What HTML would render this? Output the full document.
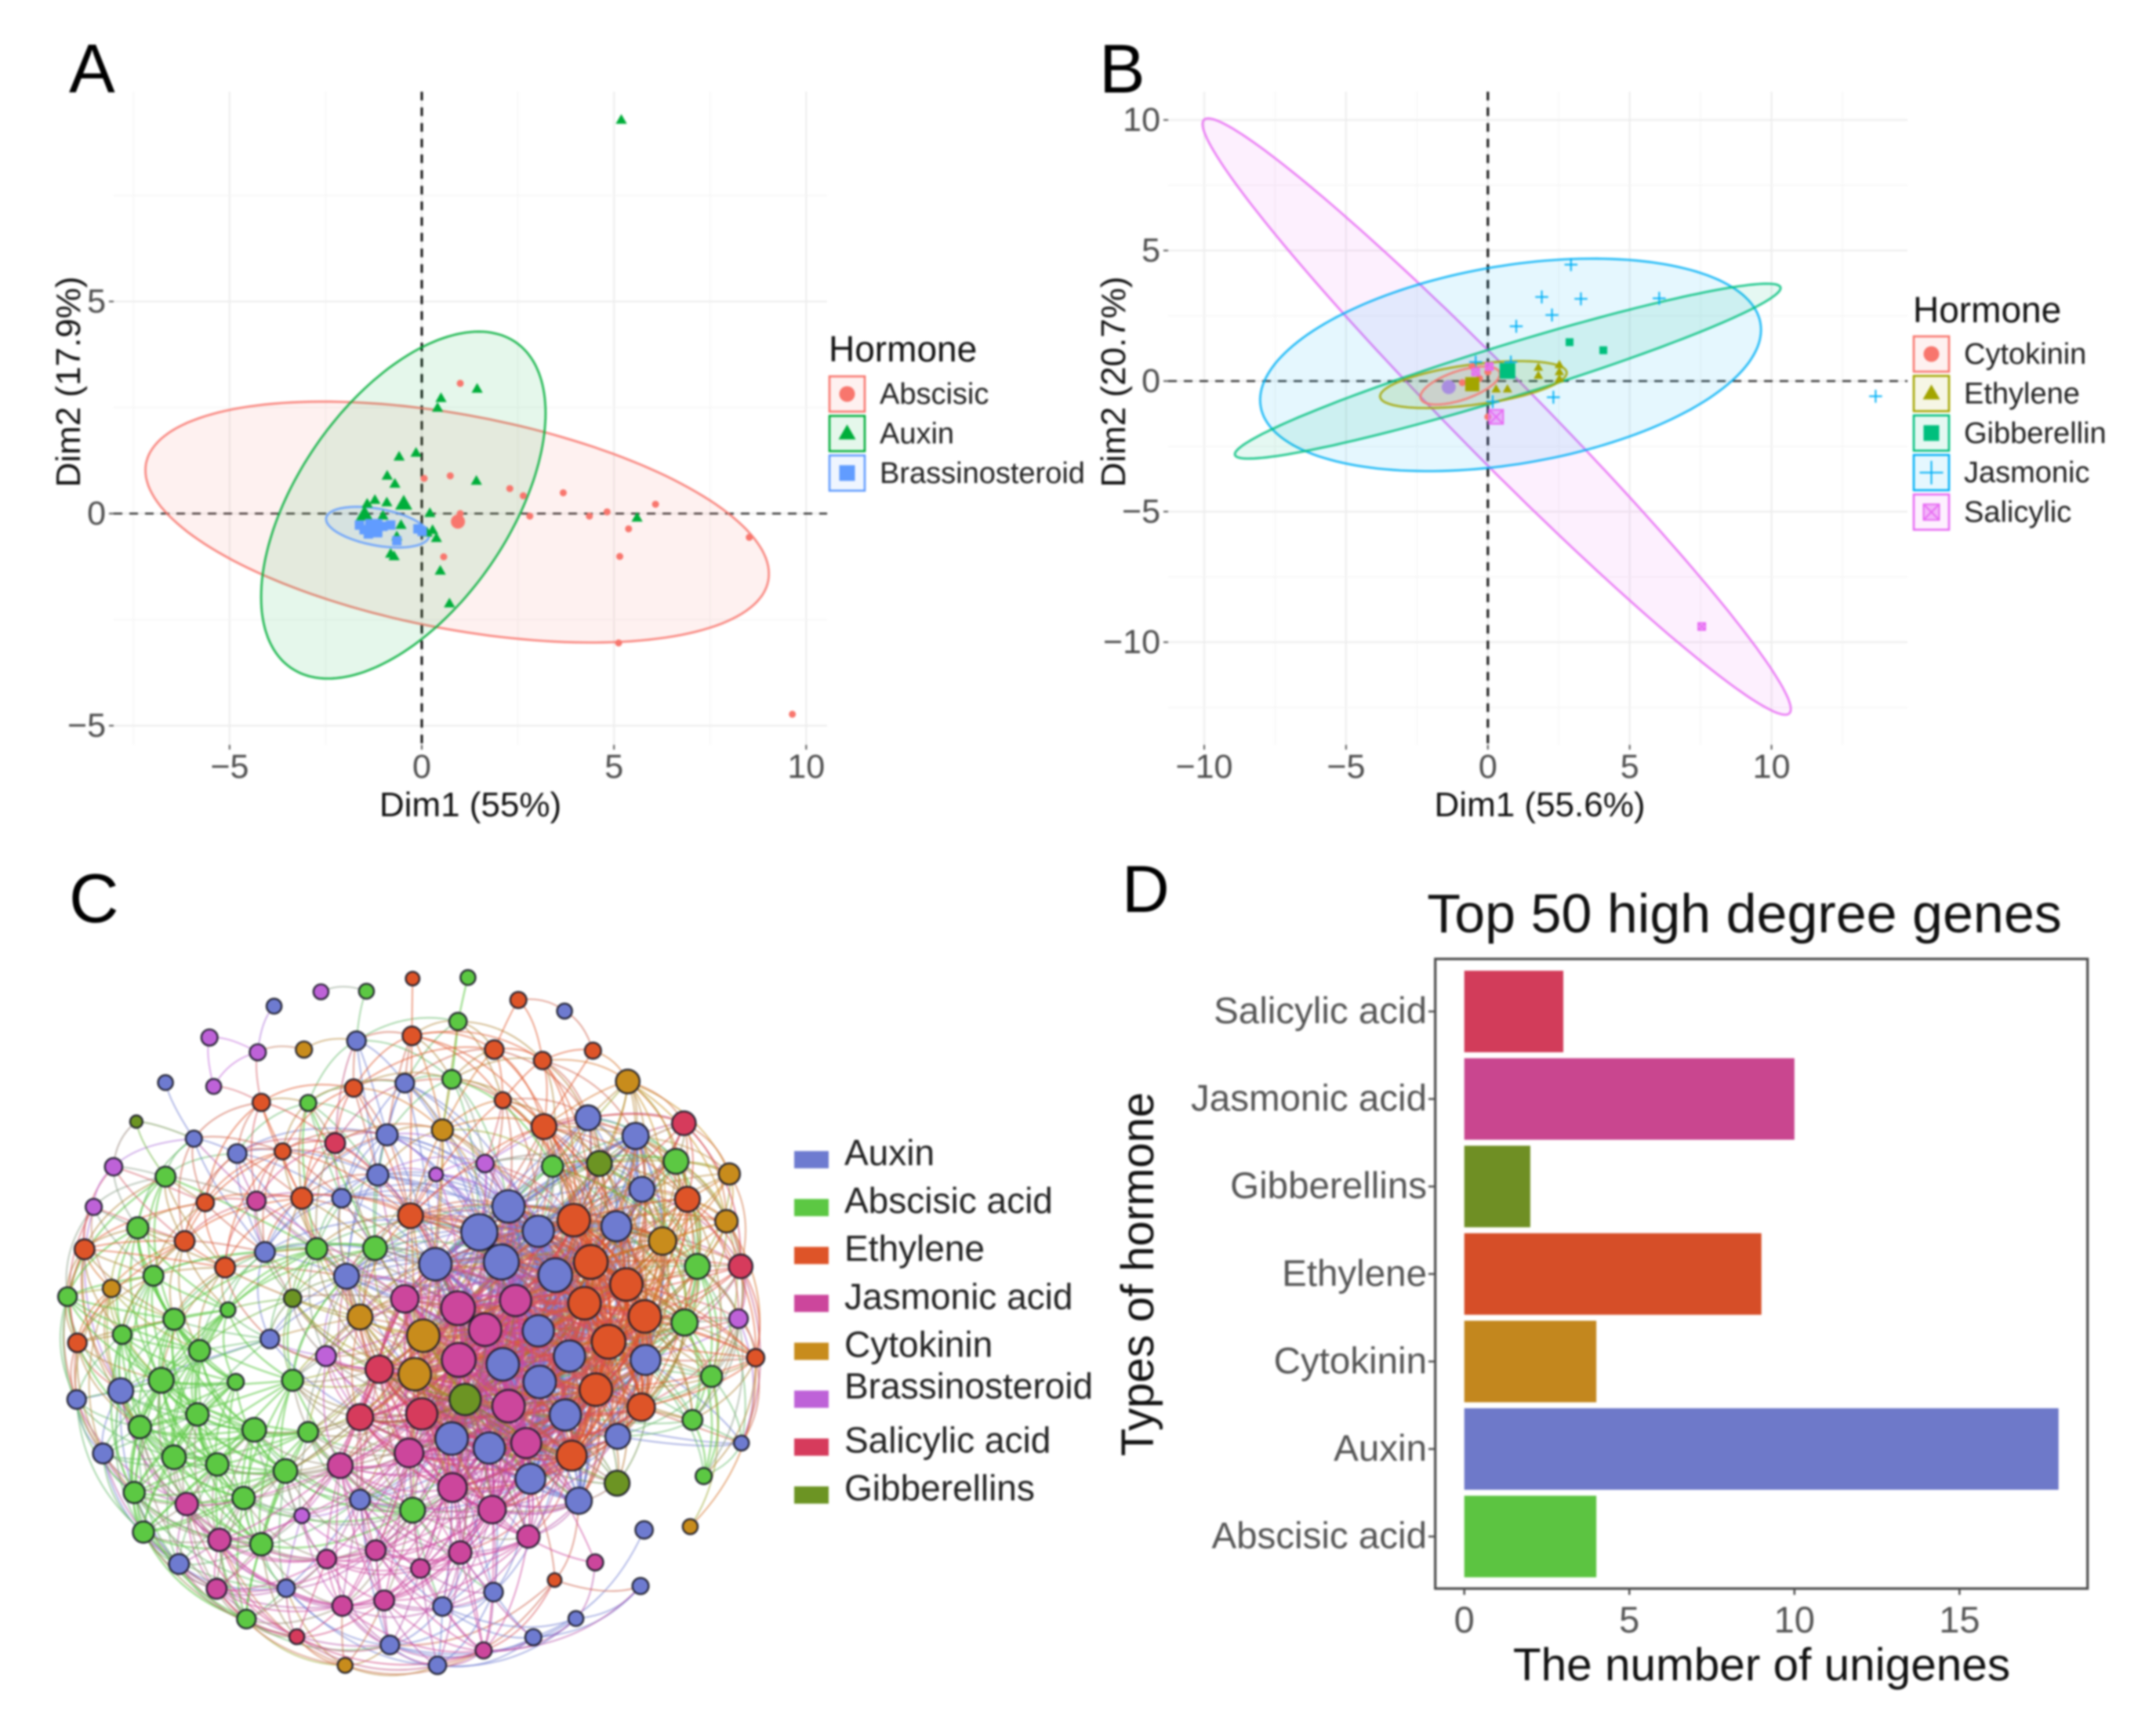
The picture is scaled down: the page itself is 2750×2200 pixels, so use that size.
<!DOCTYPE html>
<html lang="en">
<head>
<meta charset="utf-8">
<title>Hormone PCA, network and gene counts</title>
<style>
html,body{margin:0;padding:0;background:#fff;}
svg{display:block;filter:blur(1.2px);}
text{font-family:"Liberation Sans",Arial,sans-serif;}
</style>
</head>
<body>
<svg id="fig" xmlns="http://www.w3.org/2000/svg" width="2750" height="2200" viewBox="0 0 2750 2200">
<rect width="2750" height="2200" fill="#fff"/>
<text x="88" y="118" font-size="88" fill="#000">A</text>
<text x="1402" y="118" font-size="88" fill="#000">B</text>
<text x="88" y="1176" font-size="88" fill="#000">C</text>
<text x="1431" y="1163" font-size="84" fill="#000">D</text>
<g id="panelA"></g>
<g id="panelB"></g>
<g id="panelC"></g>
<g id="panelD"></g>
</svg>
<script>
/* ---------- Panel A data ---------- */
var aXTicks = [-5, 0, 5, 10];
var aYTicks = [-5, 0, 5];
var aAbscisicX = [1.0,0.06,0.74,2.29,2.64,3.68,2.81,4.36,4.82,6.08,5.38,5.15,8.52,5.12,9.64,0.57,1.0];
var aAbscisicY = [3.07,0.83,0.89,0.59,0.42,0.49,-0.06,-0.06,0.04,0.22,-0.36,-1.01,-0.56,-3.05,-4.73,-1.02,0];
var aAbscisicMean = [0.94,-0.19];
var aAuxinX = [5.19,1.44,0.5,0.41,-0.15,-0.59,-0.9,-0.7,1.42,-1.22,-0.91,-1.42,-1.01,0.21,5.6,-0.54,-0.65,-0.81,-0.72,0.28,0.38,0.14,0.48,0.72];
var aAuxinY = [9.28,2.94,2.72,2.49,1.43,1.34,0.89,0.7,0.77,0.32,0.26,0.23,-0.05,0.01,-0.1,-0.27,-0.54,-0.95,-1.01,-0.39,-0.58,-0.45,-1.35,-2.12];
var aAuxinLarge = [[-0.47,0.23],[-1.49,-0.02]];
var aBrassX = [-1.62,-1.39,-1.01,-0.81,-0.65,-0.1,0.01,-1.5,-1.15];
var aBrassY = [-0.27,-0.48,-0.3,-0.27,-0.64,-0.36,-0.42,-0.38,-0.45];
var aBrassMean = [-1.25,-0.33];
var aEllipseAbscisic = [0.92,-0.2,8.11,2.84,-0.43];
var aEllipseAuxin = [-0.48,0.2,3.7,4.09,0.53];
var aEllipseBrass = [-1.15,-0.32,1.34,0.48,-0.4];

/* ---------- Panel B data ---------- */
var bXTicks = [-10,-5,0,5,10];
var bYTicks = [-10,-5,0,5,10];
var bCytokininX = [-0.9,0,-0.55,0,-0.3];
var bCytokininY = [-0.06,0.35,0.56,-1.37,0.1];
var bEthyleneX = [1.78,1.78,2.52,2.52,2.52,0.69,0.29];
var bEthyleneY = [0.52,0.21,0.62,0.35,0.08,-0.31,-0.31];
var bEthyleneMean = [-0.55,-0.12];
var bGibberellinX = [2.88,4.07];
var bGibberellinY = [1.49,1.18];
var bGibberellinMean = [0.69,0.39];
var bJasmonicX = [2.93,1.9,3.28,2.26,1,6.04,2.31,13.67,0.81,-0.43,0.17];
var bJasmonicY = [4.46,3.22,3.15,2.53,2.1,3.17,-0.62,-0.58,0.73,0.73,-0.79];
var bSalicylicX = [7.54,-0.43,0.05];
var bSalicylicY = [-9.4,0.35,0.56];
var bSalicylicMean = [0.29,-1.37];
var bClusterMean = [-1.38,-0.23];
var bEllipseSalicylic = [0.31,-1.36,10.37,11.42,-0.981];
var bEllipseJasmonic = [0.8,0.62,8.83,4.07,0.33];
var bEllipseGibberellin = [0.7,0.38,9.62,3.35,0.95];
var bEllipseEthylene = [-0.51,-0.135,3.29,0.9,0.5];
var bEllipseCytokinin = [-0.98,-0.17,1.4,0.73,0.6];

/* ---------- Panel C data: layout coordinate, layout coordinate, node weight ---------- */
var netAuxin = [[675,672,29],[716,625,26],[758,670,25],[613,730,26],[706,726,28],[782,750,27],[868,661,24],[758,851,25],[802,897,25],[708,912,26],[760,944,26],[796,1004,25],[636,1047,26],[689,1064,25],[747,1120,24],[909,904,24],[815,1160,21],[870,1043,20],[904,594,20],[895,497,21],[828,464,20],[170,960,20],[108,976,15],[145,1074,16],[252,1275,16],[403,1319,14],[549,1422,15],[616,1459,14],[751,1408,13],[811,1374,12],[695,1326,15],[623,1352,15],[907,1213,14],[902,1315,13],[1044,1055,12],[507,1158,16],[488,752,20],[373,708,16],[380,866,15],[532,568,17],[545,495,17],[481,610,15],[334,529,15],[273,502,13],[233,400,12],[386,261,12],[502,324,15],[570,401,15],[795,270,12]];
var netAbscisic = [[982,734,20],[964,836,21],[952,543,20],[1002,934,17],[975,1013,16],[991,1115,13],[778,552,17],[528,701,19],[446,702,17],[581,1177,20],[434,1035,16],[402,1106,19],[358,1031,19],[306,1094,18],[245,1081,19],[197,1026,18],[278,1003,18],[227,941,20],[281,887,17],[245,830,17],[172,858,15],[216,751,16],[194,664,17],[233,571,16],[95,789,15],[332,944,13],[412,941,17],[321,813,12],[343,1155,18],[368,1239,18],[202,1217,17],[189,1145,17],[347,1375,15],[434,437,13],[636,394,15],[645,289,14],[516,234,12],[659,209,12]];
var netEthylene = [[808,650,26],[832,726,27],[882,767,26],[823,801,26],[908,825,26],[857,871,27],[839,958,26],[903,990,22],[805,1078,24],[766,480,20],[968,612,20],[578,642,20],[580,315,15],[696,340,15],[764,360,14],[835,342,13],[730,250,13],[708,432,13],[581,211,11],[498,410,14],[368,436,14],[398,525,13],[425,610,17],[289,618,14],[260,688,16],[317,736,16],[119,703,16],[109,873,15],[1064,900,14],[781,1304,11]];
var netJasmonic = [[570,793,22],[645,810,27],[726,796,25],[683,849,26],[646,904,27],[716,988,26],[741,1055,24],[576,1073,23],[637,1136,23],[693,1176,22],[479,1096,20],[744,1225,18],[361,615,15],[263,1166,18],[309,1231,18],[305,1320,16],[460,1266,15],[529,1250,16],[592,1283,15],[648,1254,18],[541,1341,16],[482,1351,16],[681,1432,13],[838,1272,13]];
var netCytokinin = [[596,860,26],[584,930,26],[507,826,20],[933,688,22],[1023,652,18],[1027,566,17],[884,398,19],[623,486,17],[428,340,13],[157,774,14],[486,1459,12],[972,1207,12]];
var netBrassinosteroid = [[295,318,13],[363,345,13],[301,407,12],[452,235,12],[160,553,14],[132,626,13],[614,567,11],[683,547,14],[459,897,16],[1040,829,15],[425,1187,12]];
var netSalicylic = [[534,921,22],[594,1002,25],[507,1008,21],[963,474,19],[1043,734,19],[472,510,16],[418,1407,12]];
var netGibberellins = [[655,976,25],[869,1128,20],[844,547,20],[412,792,14],[192,471,10]];
var netLegendLabels = ["Auxin","Abscisic acid","Ethylene","Jasmonic acid","Cytokinin","Brassinosteroid","Salicylic acid","Gibberellins"];

/* ---------- Panel D data ---------- */
var barCategories = ["Salicylic acid","Jasmonic acid","Gibberellins","Ethylene","Cytokinin","Auxin","Abscisic acid"];
var barValues = [3,10,2,9,4,18,4];
var barXTicks = [0,5,10,15];

/* ---------- helpers ---------- */
var NS = "http://www.w3.org/2000/svg";
function mk(parent, tag, attrs) {
  var el = document.createElementNS(NS, tag);
  for (var k in attrs) el.setAttribute(k, attrs[k]);
  parent.appendChild(el);
  return el;
}
function scale(d0, p0, d1, p1) {
  return function (v) { return p0 + (v - d0) * (p1 - p0) / (d1 - d0); };
}
function fmt(v) { return String(v).replace("-", "\u2212"); }

function ellipsePath(e, sx, sy) {
  var pts = [];
  var s = Math.sqrt(1 - e[4] * e[4]);
  for (var i = 0; i < 180; i++) {
    var t = i / 180 * 2 * Math.PI;
    var x = e[0] + e[2] * Math.cos(t);
    var y = e[1] + e[3] * (e[4] * Math.cos(t) + s * Math.sin(t));
    pts.push(sx(x).toFixed(1) + "," + sy(y).toFixed(1));
  }
  return "M" + pts.join("L") + "Z";
}
function drawMark(g, shape, x, y, r, color) {
  var el;
  if (shape === "circle") {
    el = mk(g, "circle", {cx: x, cy: y, r: r, fill: color});
  } else if (shape === "triangle") {
    el = mk(g, "polygon", {points: x + "," + (y - r * 1.15) + " " + (x + r * 1.1) + "," + (y + r * 0.75) + " " + (x - r * 1.1) + "," + (y + r * 0.75), fill: color});
  } else if (shape === "square") {
    el = mk(g, "rect", {x: x - r, y: y - r, width: 2 * r, height: 2 * r, fill: color});
  } else if (shape === "plus") {
    el = mk(g, "path", {d: "M" + (x - r * 1.5) + "," + y + "H" + (x + r * 1.5) + "M" + x + "," + (y - r * 1.5) + "V" + (y + r * 1.5), stroke: color, "stroke-width": 2, fill: "none"});
  } else {
    el = mk(g, "path", {d: "M" + (x - r) + "," + (y - r) + "h" + 2 * r + "v" + 2 * r + "h" + -2 * r + "z M" + (x - r) + "," + (y - r) + "l" + 2 * r + "," + 2 * r + "M" + (x + r) + "," + (y - r) + "l" + -2 * r + "," + 2 * r, stroke: color, "stroke-width": 2, fill: color, "fill-opacity": 0.45});
  }
  return el;
}
function drawPca(g, cfg) {
  var sx = cfg.sx, sy = cfg.sy, b = cfg.box;
  var v, i, el;
  for (v = cfg.xMinorFrom; sx(v) <= b.r; v += 2.5) {
    var major = Math.abs(v / 5 - Math.round(v / 5)) < 1e-6;
    el = mk(g, "line", {x1: sx(v), x2: sx(v), y1: b.t, y2: b.b, stroke: major ? "#ececec" : "#f5f5f5", "stroke-width": major ? 2 : 1.5});
    
    
  }
  for (v = cfg.yMinorFrom; sy(v) >= b.t; v += 2.5) {
    var majorY = Math.abs(v / 5 - Math.round(v / 5)) < 1e-6;
    el = mk(g, "line", {y1: sy(v), y2: sy(v), x1: b.l, x2: b.r, stroke: majorY ? "#ececec" : "#f5f5f5", "stroke-width": majorY ? 2 : 1.5});
    
    
  }
  el = mk(g, "line", {x1: b.l, x2: b.r, y1: sy(0), y2: sy(0), stroke: "#222", "stroke-width": 2.2, "stroke-dasharray": "11 9"});
  
  
  el = mk(g, "line", {x1: sx(0), x2: sx(0), y1: b.t, y2: b.b, stroke: "#111", "stroke-width": 3, "stroke-dasharray": "11 9"});
  
  
  cfg.ellipses.forEach(function (e) {
    var p = mk(g, "path", {d: ellipsePath(e.params, sx, sy), fill: e.color, "fill-opacity": 0.1, stroke: e.color, "stroke-width": 2.8, "stroke-opacity": 0.85});
    
    
  });
  cfg.points.forEach(function (s) {
    for (var j = 0; j < s.x.length; j++) {
      var m = drawMark(g, s.shape, sx(s.x[j]), sy(s.y[j]), s.r, s.color);
      
      
    }
  });
  cfg.xTicks.forEach(function (t) {
    var tk = mk(g, "line", {x1: sx(t), x2: sx(t), y1: b.b, y2: b.b + 6, stroke: "#555", "stroke-width": 2});
    
    
    var lb = mk(g, "text", {x: sx(t), y: cfg.xLabelY, "font-size": 43, fill: "#4d4d4d", "text-anchor": "middle"});
    lb.textContent = fmt(t);
    
    
  });
  cfg.yTicks.forEach(function (t) {
    var tk = mk(g, "line", {x1: b.l - 6, x2: b.l, y1: sy(t), y2: sy(t), stroke: "#555", "stroke-width": 2});
    
    
    var lb = mk(g, "text", {x: b.l - 10, y: sy(t) + 14, "font-size": 43, fill: "#4d4d4d", "text-anchor": "end"});
    lb.textContent = fmt(t);
    
    
  });
  var xt = mk(g, "text", {x: cfg.xTitleX, y: 1041, "font-size": 44, fill: "#111", "text-anchor": "middle"});
  xt.textContent = cfg.xTitle;
  
  
  var yt = mk(g, "text", {transform: "translate(" + cfg.yTitleX + ",487) rotate(-90)", "font-size": 44, fill: "#111", "text-anchor": "middle"});
  yt.textContent = cfg.yTitle;
  
  
  var lt = mk(g, "text", {x: cfg.legend.x, y: cfg.legend.titleY, "font-size": 46, fill: "#111"});
  lt.textContent = "Hormone";
  
  
  cfg.legend.items.forEach(function (it, idx) {
    var top = cfg.legend.y + idx * 50.4;
    var key = mk(g, "rect", {x: cfg.legend.x + 1, y: top, width: 45, height: 45, fill: it.color, "fill-opacity": 0.1, stroke: it.color, "stroke-width": 2.6});
    
    
    var km = drawMark(g, it.shape, cfg.legend.x + 23.5, top + 22.5, 10, it.color);
    
    
    var tx = mk(g, "text", {x: cfg.legend.x + cfg.legend.textDx, y: top + 35, "font-size": 38, fill: "#222"});
    tx.textContent = it.label;
    
    
  });
}

/* ---------- Panel A ---------- */
var cRed = "#F8766D", cGreen = "#00AE3A", cBlue = "#619CFF";
var ax = scale(0, 538, 10, 1028.3), ay = scale(0, 655, 5, 384.5);
drawPca(document.getElementById("panelA"), {
  sx: ax, sy: ay, box: {l: 145, r: 1055, t: 117, b: 950},
  xMinorFrom: -7.5, yMinorFrom: -5,
  xTicks: aXTicks, yTicks: aYTicks, xLabelY: 992, xTitle: "Dim1 (55%)", xTitleX: 600, yTitle: "Dim2 (17.9%)", yTitleX: 102,
  ellipses: [
    {params: aEllipseAbscisic, color: cRed},
    {params: aEllipseAuxin, color: cGreen},
    {params: aEllipseBrass, color: cBlue}
  ],
  points: [
    {x: aAbscisicX, y: aAbscisicY, shape: "circle", r: 4.5, color: cRed},
    {x: [aAbscisicMean[0]], y: [aAbscisicMean[1]], shape: "circle", r: 9, color: cRed},
    {x: aAuxinX, y: aAuxinY, shape: "triangle", r: 6.5, color: cGreen},
    {x: aAuxinLarge.map(function (p) { return p[0]; }), y: aAuxinLarge.map(function (p) { return p[1]; }), shape: "triangle", r: 10, color: cGreen},
    {x: aBrassX, y: aBrassY, shape: "square", r: 6, color: cBlue},
    {x: [aBrassMean[0]], y: [aBrassMean[1]], shape: "square", r: 11, color: cBlue}
  ],
  legend: {x: 1057, y: 480, titleY: 461, textDx: 65, items: [
    {label: "Abscisic", color: cRed, shape: "circle"},
    {label: "Auxin", color: cGreen, shape: "triangle"},
    {label: "Brassinosteroid", color: cBlue, shape: "square"}
  ]}
});

/* ---------- Panel B ---------- */
var c1 = "#F8766D", c2 = "#A3A500", c3 = "#00BF7D", c4 = "#00B0F6", c5 = "#E76BF3";
var bx = scale(0, 1897.8, 10, 2259.6), by = scale(0, 486, 5, 319.5);
drawPca(document.getElementById("panelB"), {
  sx: bx, sy: by, box: {l: 1490, r: 2433, t: 117, b: 950},
  xMinorFrom: -10, yMinorFrom: -12.5,
  xTicks: bXTicks, yTicks: bYTicks, xLabelY: 992, xTitle: "Dim1 (55.6%)", xTitleX: 1964, yTitle: "Dim2 (20.7%)", yTitleX: 1435,
  ellipses: [
    {params: bEllipseSalicylic, color: c5},
    {params: bEllipseJasmonic, color: c4},
    {params: bEllipseGibberellin, color: c3},
    {params: bEllipseEthylene, color: c2},
    {params: bEllipseCytokinin, color: c1}
  ],
  points: [
    {x: bJasmonicX, y: bJasmonicY, shape: "plus", r: 5.5, color: c4},
    {x: bEthyleneX, y: bEthyleneY, shape: "triangle", r: 5.5, color: c2},
    {x: bGibberellinX, y: bGibberellinY, shape: "square", r: 5, color: c3},
    {x: bCytokininX, y: bCytokininY, shape: "circle", r: 4.5, color: c1},
    {x: bSalicylicX, y: bSalicylicY, shape: "cross", r: 4.5, color: c5},
    {x: [bSalicylicMean[0]], y: [bSalicylicMean[1]], shape: "cross", r: 9, color: c5},
    {x: [bClusterMean[0]], y: [bClusterMean[1]], shape: "circle", r: 9, color: "#a98ee0"},
    {x: [bEthyleneMean[0]], y: [bEthyleneMean[1]], shape: "square", r: 9, color: c2},
    {x: [bGibberellinMean[0]], y: [bGibberellinMean[1]], shape: "square", r: 10, color: c3}
  ],
  legend: {x: 2440, y: 429, titleY: 411, textDx: 65, items: [
    {label: "Cytokinin", color: c1, shape: "circle"},
    {label: "Ethylene", color: c2, shape: "triangle"},
    {label: "Gibberellin", color: c3, shape: "square"},
    {label: "Jasmonic", color: c4, shape: "plus"},
    {label: "Salicylic", color: c5, shape: "cross"}
  ]}
});

/* ---------- Panel C ---------- */
(function () {
  var g = document.getElementById("panelC");
  var netX = scale(0, 0, 1.104, 1), netY = scale(0, 1100, 1.425, 1101);
  var netR = function (w) { return w * 0.8; };
  var groups = [
    {nodes: netAuxin, color: "#6E7BD0", pull: 0.3},
    {nodes: netAbscisic, color: "#5CC843", pull: 1},
    {nodes: netEthylene, color: "#DE5428", pull: 1.6},
    {nodes: netJasmonic, color: "#CC469C", pull: 1},
    {nodes: netCytokinin, color: "#C88C1C", pull: 1.4},
    {nodes: netBrassinosteroid, color: "#BE62D8", pull: 0.8},
    {nodes: netSalicylic, color: "#D63B5C", pull: 1},
    {nodes: netGibberellins, color: "#6C9423", pull: 1}
  ];
  var all = [];
  groups.forEach(function (gr, gi) {
    gr.nodes.forEach(function (n) {
      all.push({x: netX(n[0]), y: netY(n[1]), r: netR(n[2]), t: gi, color: gr.color, pull: gr.pull});
    });
  });
  function hex(c) { return [parseInt(c.substr(1, 2), 16), parseInt(c.substr(3, 2), 16), parseInt(c.substr(5, 2), 16)]; }
  function mix(a, b) {
    var p = hex(a.color), q = hex(b.color), s = a.pull / (a.pull + b.pull);
    return "rgb(" + Math.round(p[0] * s + q[0] * (1 - s)) + "," + Math.round(p[1] * s + q[1] * (1 - s)) + "," + Math.round(p[2] * s + q[2] * (1 - s)) + ")";
  }
  function inGap(x, y) {
    return Math.hypot(x - 340, y - 1775) < 55 || Math.hypot(x - 830, y - 1935) < 105 || Math.hypot(x - 700, y - 2020) < 50;
  }
  function sparse(n) { return n.y < 1395 && n.r <= 10.8; }
  var cx = 525, cy = 1682;
  var edges = mk(g, "g", {fill: "none", "stroke-opacity": 0.62});
  
  
  for (var i = 0; i < all.length; i++) {
    for (var j = i + 1; j < all.length; j++) {
      var a = all[i], b = all[j];
      var dx = b.x - a.x, dy = b.y - a.y, d = Math.sqrt(dx * dx + dy * dy);
      var reach = (a.r + b.r) * (a.t === b.t ? 8.2 : 5.8);
      if (sparse(a) || sparse(b)) reach *= 0.55;
      var ra = Math.hypot(a.x - cx, a.y - cy), rb = Math.hypot(b.x - cx, b.y - cy);
      var rim = ra > 370 && rb > 370 && d < 240 && a.y > 1500 && b.y > 1500;
      if (d > reach && !rim) continue;
      var mx = (a.x + b.x) / 2, my = (a.y + b.y) / 2;
      var ox = mx - cx, oy = my - cy, ol = Math.hypot(ox, oy) || 1;
      var bend = d * 0.22;
      var qx = mx + ox / ol * bend, qy = my + oy / ol * bend;
      if (inGap((mx + qx) / 2, (my + qy) / 2)) continue;
      var col = a.t === b.t ? a.color : mix(a, b);
      var width = (a.r > 16 && b.r > 16) ? 3 : ((a.t === 1 && b.t === 1) ? 2.2 : 1.7);
      var p = mk(edges, "path", {d: "M" + a.x.toFixed(1) + "," + a.y.toFixed(1) + "Q" + qx.toFixed(1) + "," + qy.toFixed(1) + " " + b.x.toFixed(1) + "," + b.y.toFixed(1), stroke: col, "stroke-width": width});
      
      
    }
  }
  all.forEach(function (n) {
    var c = mk(g, "circle", {cx: n.x.toFixed(1), cy: n.y.toFixed(1), r: n.r.toFixed(1), fill: n.color, stroke: "#1c1c2a", "stroke-width": 2.2});
    
    
  });
  var legendRowY = scale(0, 1479, 1, 1540.1);
  netLegendLabels.forEach(function (label, k) {
    var y = legendRowY(k);
    var s = mk(g, "rect", {x: 1013, y: y - 11, width: 44, height: 22, fill: groups[k].color});
    
    
    var nudge = label === "Brassinosteroid" ? -8 : 0;
    var t = mk(g, "text", {x: 1077, y: y + 7 + nudge, "font-size": 46, fill: "#222"});
    t.textContent = label;
    
    
  });
})();

/* ---------- Panel D ---------- */
(function () {
  var g = document.getElementById("panelD");
  var colors = ["#D23C5A","#C9468F","#6F8F24","#D64E28","#C3871E","#6E79C9","#5CC441"];
  var sx = scale(0, 1867.7, 18, 2625.7);
  var sy = scale(0, 1290, 6, 1959.6);
  var box = mk(g, "rect", {x: 1830.7, y: 1223, width: 832, height: 803, fill: "#fff", stroke: "#4d4d4d", "stroke-width": 3.2});
  
  
  barCategories.forEach(function (cat, i) {
    var r = mk(g, "rect", {x: sx(0), y: sy(i) - 52, width: sx(barValues[i]) - sx(0), height: 104, fill: colors[i]});
    
    
    var tk = mk(g, "line", {x1: 1822, x2: 1830, y1: sy(i), y2: sy(i), stroke: "#4d4d4d", "stroke-width": 2.5});
    
    
    var t = mk(g, "text", {x: 1820, y: sy(i) + 15, "font-size": 47.5, fill: "#555", "text-anchor": "end"});
    t.textContent = cat;
    
    
  });
  barXTicks.forEach(function (v) {
    var tk = mk(g, "line", {x1: sx(v), x2: sx(v), y1: 2026, y2: 2034, stroke: "#4d4d4d", "stroke-width": 2.5});
    
    
    var t = mk(g, "text", {x: sx(v), y: 2082, "font-size": 47, fill: "#555", "text-anchor": "middle"});
    t.textContent = String(v);
    
    
  });
  var title = mk(g, "text", {x: 2225, y: 1189, "font-size": 70, fill: "#111", "text-anchor": "middle"});
  title.textContent = "Top 50 high degree genes";
  
  
  var xt = mk(g, "text", {x: 2247, y: 2143, "font-size": 58.5, fill: "#111", "text-anchor": "middle"});
  xt.textContent = "The number of unigenes";
  
  
  var yt = mk(g, "text", {transform: "translate(1471,1625) rotate(-90)", "font-size": 58, fill: "#111", "text-anchor": "middle"});
  yt.textContent = "Types of hormone";
  
  
})();
</script>
</body>
</html>
